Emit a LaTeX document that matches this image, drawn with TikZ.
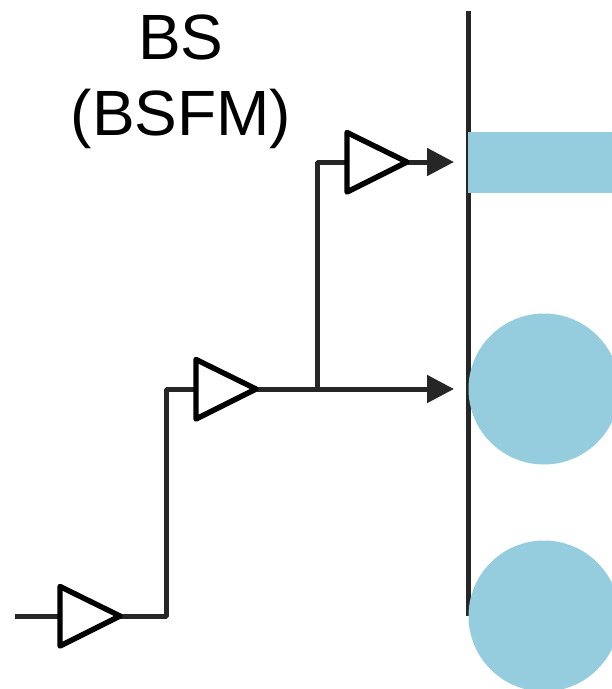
\documentclass[tikz,border=0pt]{standalone}
\usepackage{fontspec}
\setmainfont{Liberation Sans}
\usetikzlibrary{arrows.meta}
\definecolor{lb}{HTML}{95CDDE}
\definecolor{ln}{HTML}{262626}
\tikzset{x=1pt,y=-1pt,
 wire/.style={draw=ln,line width=5pt,line join=bevel},
 arrowwire/.style={wire,-{Triangle[length=27pt,width=27pt]}},
 amp/.style={draw=black,line width=5.4pt,line join=round,fill=white},
 blob/.style={fill=lb,draw=none}}
\begin{document}
\begin{tikzpicture}
\useasboundingbox (0,0) rectangle (612,689);
\coordinate (top) at (468,11);
\coordinate (bot) at (468,616);
\draw[wire] (top) -- (bot);
\begin{scope}
\clip (0,0) rectangle (612,689);
\fill[blob] (468,132) rectangle (612,193);
\fill[blob] (544,389) circle (75.5);
\fill[blob] (544,616) circle (75.5);
\end{scope}
\coordinate (in) at (15,616);
\coordinate (a1) at (60,616);
\coordinate (o1) at (120,616);
\coordinate (c1) at (166,616);
\coordinate (c2) at (166,389);
\coordinate (a2) at (196,389);
\coordinate (o2) at (257,389);
\coordinate (j) at (317,389);
\coordinate (c3) at (317,162);
\coordinate (a3) at (347,162);
\coordinate (o3) at (408,162);
\coordinate (e1) at (454,162);
\coordinate (e2) at (454,389);
\draw[wire] (in) -- (a1);
\draw[wire] (o1) -- (c1) -- (c2) -- (a2);
\draw[arrowwire] (o2) -- (e2);
\draw[wire] (j) -- (c3) -- (a3);
\draw[arrowwire] (o3) -- (e1);
\draw[amp] (60,586.5) -- (120,616) -- (60,646) -- cycle;
\draw[amp] (196,359.5) -- (256,389) -- (196,419) -- cycle;
\draw[amp] (347,132.5) -- (407,162) -- (347,192) -- cycle;
\node[font=\fontsize{64}{76}\selectfont,align=center,text=black] (lbl) at (181,82) {BS\\(BSFM)};
\end{tikzpicture}
\end{document}
